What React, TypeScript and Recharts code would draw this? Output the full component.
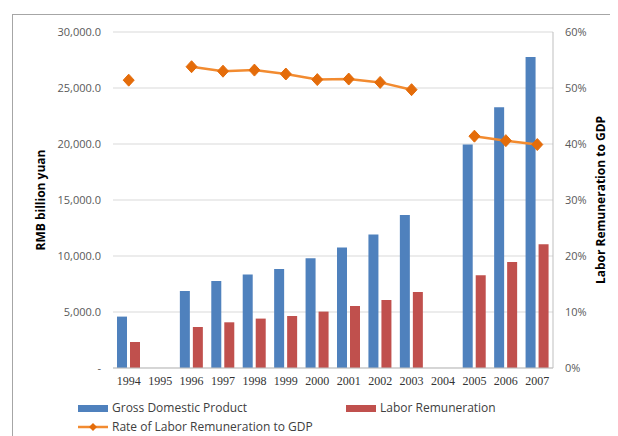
import React from 'react';
import { ComposedChart, Bar, Line, XAxis, YAxis, CartesianGrid } from 'recharts';

const years = ['1994', '1995', '1996', '1997', '1998', '1999', '2000', '2001', '2002', '2003', '2004', '2005', '2006', '2007'];
const gdp = [4589, null, 6875, 7768, 8339, 8839, 9795, 10750, 11911, 13661, null, 19946, 23277, 27768];
const labor = [2321, null, 3661, 4080, 4411, 4643, 5036, 5536, 6071, 6786, null, 8277, 9464, 11045];
const rate = [51.4, null, 53.8, 53.0, 53.2, 52.5, 51.5, 51.6, 51.0, 49.7, null, 41.4, 40.6, 39.9];
const leftTicks = [0, 5000, 10000, 15000, 20000, 25000, 30000];
const rightTicks = [0, 10, 20, 30, 40, 50, 60];

const data = years.map((y, i) => ({ year: y, gdp: gdp[i], labor: labor[i], rate: rate[i] }));

const BLUE = '#4f81bd';
const RED = '#c0504d';
const ORANGE_LINE = '#f28b30';
const ORANGE_DOT = '#e46c0a';
const SANS = '"Open Sans", "Liberation Sans", sans-serif';

const fmtLeft = (v: number) =>
  v === 0 ? '-' : v.toLocaleString('en-US', { minimumFractionDigits: 1, maximumFractionDigits: 1 });

const Diamond = (props: any) => {
  const { cx, cy, value, index } = props;
  if (value == null || cx == null || cy == null) return <g key={`d${index}`} />;
  const w = 5.5;
  const h = 6;
  return (
    <polygon
      key={`d${index}`}
      points={`${cx},${cy - h} ${cx + w},${cy} ${cx},${cy + h} ${cx - w},${cy}`}
      fill={ORANGE_DOT}
      stroke={ORANGE_DOT}
      strokeWidth={1}
    />
  );
};

export default function App() {
  return (
    <div style={{ position: 'relative', width: 610, height: 428, overflow: 'hidden', background: '#fff' }}>
      <div
        style={{
          position: 'absolute',
          left: 4,
          top: 6,
          width: 800,
          height: 800,
          borderTop: '1px solid #a6a6a6',
          borderLeft: '1px solid #a6a6a6',
        }}
      />
      <div style={{ position: 'absolute', left: 0, top: 0 }}>
        <ComposedChart
          width={610}
          height={428}
          data={data}
          margin={{ top: 24, right: 0, bottom: 38, left: 0 }}
          barGap={3}
        >
          <CartesianGrid yAxisId="left" vertical={false} stroke="#d9d9d9" strokeWidth={1} />
          <XAxis
            dataKey="year"
            axisLine={{ stroke: '#bfbfbf' }}
            tickLine={false}
            interval={0}
            height={30}
            tick={{ fontFamily: '"Liberation Serif", serif', fontSize: 12, fill: '#333' }}
          />
          <YAxis
            yAxisId="left"
            orientation="left"
            width={105}
            domain={[0, 30000]}
            ticks={leftTicks}
            tickFormatter={fmtLeft}
            axisLine={false}
            tickLine={false}
            tickMargin={6}
            tick={{ fontFamily: SANS, fontSize: 11, fill: '#595959' }}
            label={{
              content: () => (
                <text
                  x={32}
                  y={192}
                  transform="rotate(-90 32 192)"
                  textAnchor="middle"
                  dominantBaseline="central"
                  fontFamily={SANS}
                  fontSize={12}
                  fontWeight="bold"
                  fill="#000"
                >
                  RMB billion yuan
                </text>
              ),
            }}
          />
          <YAxis
            yAxisId="right"
            orientation="right"
            width={65}
            domain={[0, 60]}
            ticks={rightTicks}
            tickFormatter={(v: number) => `${v}%`}
            axisLine={{ stroke: '#bfbfbf' }}
            tickLine={false}
            tickMargin={6}
            tick={{ fontFamily: SANS, fontSize: 11, fill: '#595959', textAnchor: 'start' }}
            label={{
              content: () => (
                <text
                  x={592}
                  y={192}
                  transform="rotate(-90 592 192)"
                  textAnchor="middle"
                  dominantBaseline="central"
                  fontFamily={SANS}
                  fontSize={12}
                  fontWeight="bold"
                  fill="#000"
                >
                  Labor Remuneration to GDP
                </text>
              ),
            }}
          />
          <Bar yAxisId="left" dataKey="gdp" fill={BLUE} barSize={10} isAnimationActive={false} />
          <Bar yAxisId="left" dataKey="labor" fill={RED} barSize={10} isAnimationActive={false} />
          <Line
            yAxisId="right"
            type="linear"
            dataKey="rate"
            stroke={ORANGE_LINE}
            strokeWidth={2.5}
            dot={Diamond}
            activeDot={false}
            isAnimationActive={false}
          />
        </ComposedChart>
      </div>
      <div style={{ position: 'absolute', left: 0, top: 0, fontFamily: SANS, fontSize: 12, color: '#404040' }}>
        <div style={{ position: 'absolute', left: 70, top: 396.5, width: 30, height: 7, background: BLUE }} />
        <div style={{ position: 'absolute', left: 104, top: 391, whiteSpace: 'nowrap', lineHeight: '18px' }}>
          Gross Domestic Product
        </div>
        <div style={{ position: 'absolute', left: 338, top: 396.5, width: 30, height: 7, background: RED }} />
        <div style={{ position: 'absolute', left: 372, top: 391, whiteSpace: 'nowrap', lineHeight: '18px' }}>
          Labor Remuneration
        </div>
        <svg style={{ position: 'absolute', left: 70, top: 413 }} width={30} height={12}>
          <line x1={0} y1={6} x2={30} y2={6} stroke={ORANGE_LINE} strokeWidth={2.5} />
          <polygon points="15,2 19,6 15,10 11,6" fill={ORANGE_DOT} />
        </svg>
        <div style={{ position: 'absolute', left: 104, top: 410, whiteSpace: 'nowrap', lineHeight: '18px' }}>
          Rate of Labor Remuneration to GDP
        </div>
      </div>
    </div>
  );
}
